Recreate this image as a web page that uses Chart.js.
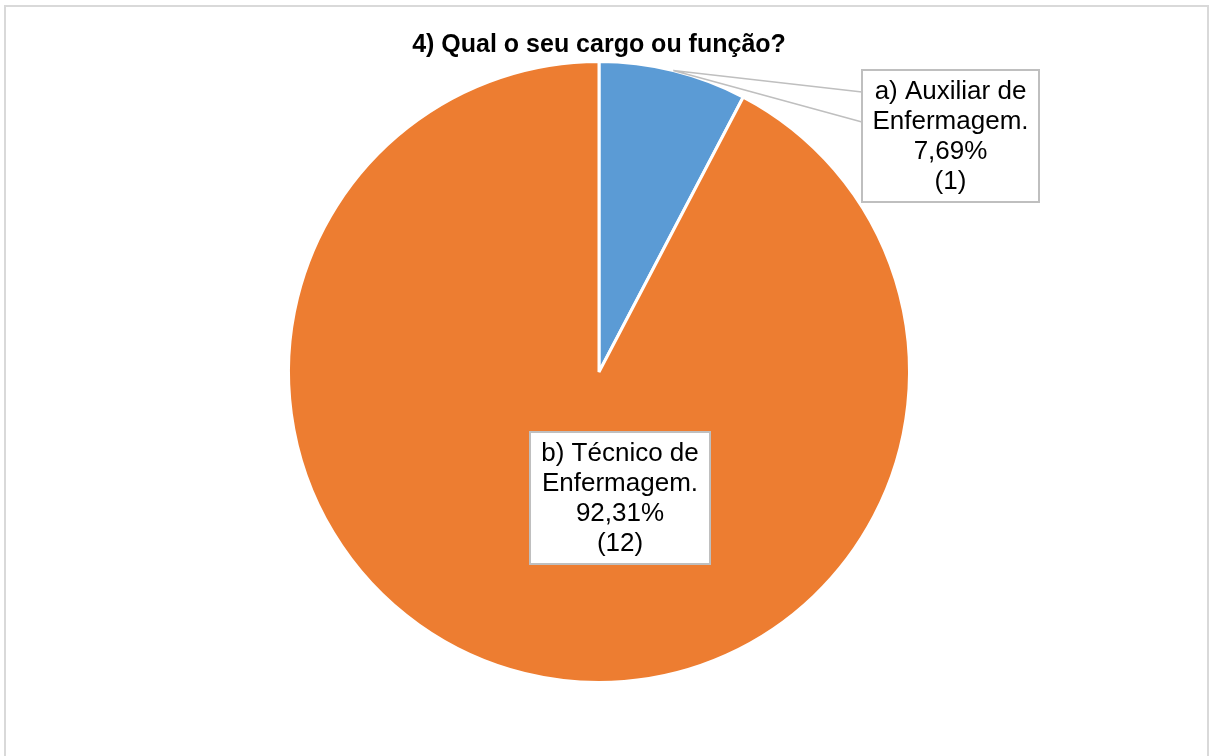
<!DOCTYPE html>
<html>
<head>
<meta charset="utf-8">
<script src="https://cdn.jsdelivr.net/npm/chart.js@4.4.1/dist/chart.umd.min.js"></script>
<style>
  html, body { margin: 0; padding: 0; background: #ffffff; overflow: hidden; }
  #wrap { position: relative; width: 1212px; height: 756px; }
  #frame { position: absolute; left: 4px; top: 5px; width: 1205px; height: 770px; border: 2px solid #d9d9d9; box-sizing: border-box; pointer-events: none; }
  canvas { position: absolute; left: 0; top: 0; }
</style>
</head>
<body>
<div id="wrap">
  <canvas id="c" width="1212" height="756"></canvas>
  <div id="frame"></div>
</div>
<script>
const title = "4) Qual o seu cargo ou função?";
const categories = ["a) Auxiliar de Enfermagem.", "b) Técnico de Enfermagem."];
const labelLines = [["a) Auxiliar de", "Enfermagem."], ["b) Técnico de", "Enfermagem."]];
const counts = [1, 12];
const percentLabels = ["7,69%", "92,31%"];
const colors = ["#5B9BD5", "#ED7D31"];

const FONT = "'Liberation Sans', Arial, sans-serif";

const labelPlugin = {
  id: "excelLabels",
  afterDraw(chart) {
    const ctx = chart.ctx;
    const meta = chart.getDatasetMeta(0);
    const arc0 = meta.data[0];
    const cx = arc0.x, cy = arc0.y, r = arc0.outerRadius;

    // title
    ctx.save();
    ctx.fillStyle = "#000000";
    ctx.font = "bold 25px " + FONT;
    ctx.textAlign = "center";
    ctx.textBaseline = "middle";
    ctx.fillText(title, cx, 45);
    ctx.restore();

    const boxes = [
      { left: cx + 263, top: cy - 302, w: 177, h: 132 },
      { left: cx + 21 - 90, top: cy + 126 - 66, w: 180, h: 132 }
    ];

    // leader line for slice a
    const a = meta.data[0];
    const mid = (a.startAngle + a.endAngle) / 2;
    const px = cx + Math.cos(mid) * r;
    const py = cy + Math.sin(mid) * r;
    const b0 = boxes[0];
    ctx.save();
    ctx.strokeStyle = "#bfbfbf";
    ctx.lineWidth = 1.5;
    ctx.beginPath();
    ctx.moveTo(b0.left, b0.top + 22);
    ctx.lineTo(px, py);
    ctx.lineTo(b0.left, b0.top + 52);
    ctx.stroke();
    ctx.restore();

    boxes.forEach((b, i) => {
      ctx.save();
      ctx.fillStyle = "#ffffff";
      ctx.fillRect(b.left, b.top, b.w, b.h);
      ctx.strokeStyle = "#bfbfbf";
      ctx.lineWidth = 2;
      ctx.strokeRect(b.left, b.top, b.w, b.h);
      const lines = labelLines[i].concat([percentLabels[i], "(" + counts[i] + ")"]);
      ctx.fillStyle = "#000000";
      ctx.font = "26px " + FONT;
      ctx.textAlign = "center";
      ctx.textBaseline = "middle";
      const lh = 30;
      const startY = b.top + b.h / 2 - lh * (lines.length - 1) / 2;
      lines.forEach((t, k) => ctx.fillText(t, b.left + b.w / 2, startY + k * lh + 1));
      ctx.restore();
    });
  }
};

new Chart(document.getElementById("c"), {
  type: "pie",
  data: {
    labels: categories,
    datasets: [{
      data: counts,
      backgroundColor: colors,
      borderColor: "#ffffff",
      borderWidth: 3
    }]
  },
  options: {
    responsive: false,
    animation: false,
    layout: { padding: { top: 60, bottom: 72, left: 0, right: 14 } },
    plugins: {
      legend: { display: false },
      title: { display: false },
      tooltip: { enabled: false }
    }
  },
  plugins: [labelPlugin]
});
</script>
</body>
</html>
